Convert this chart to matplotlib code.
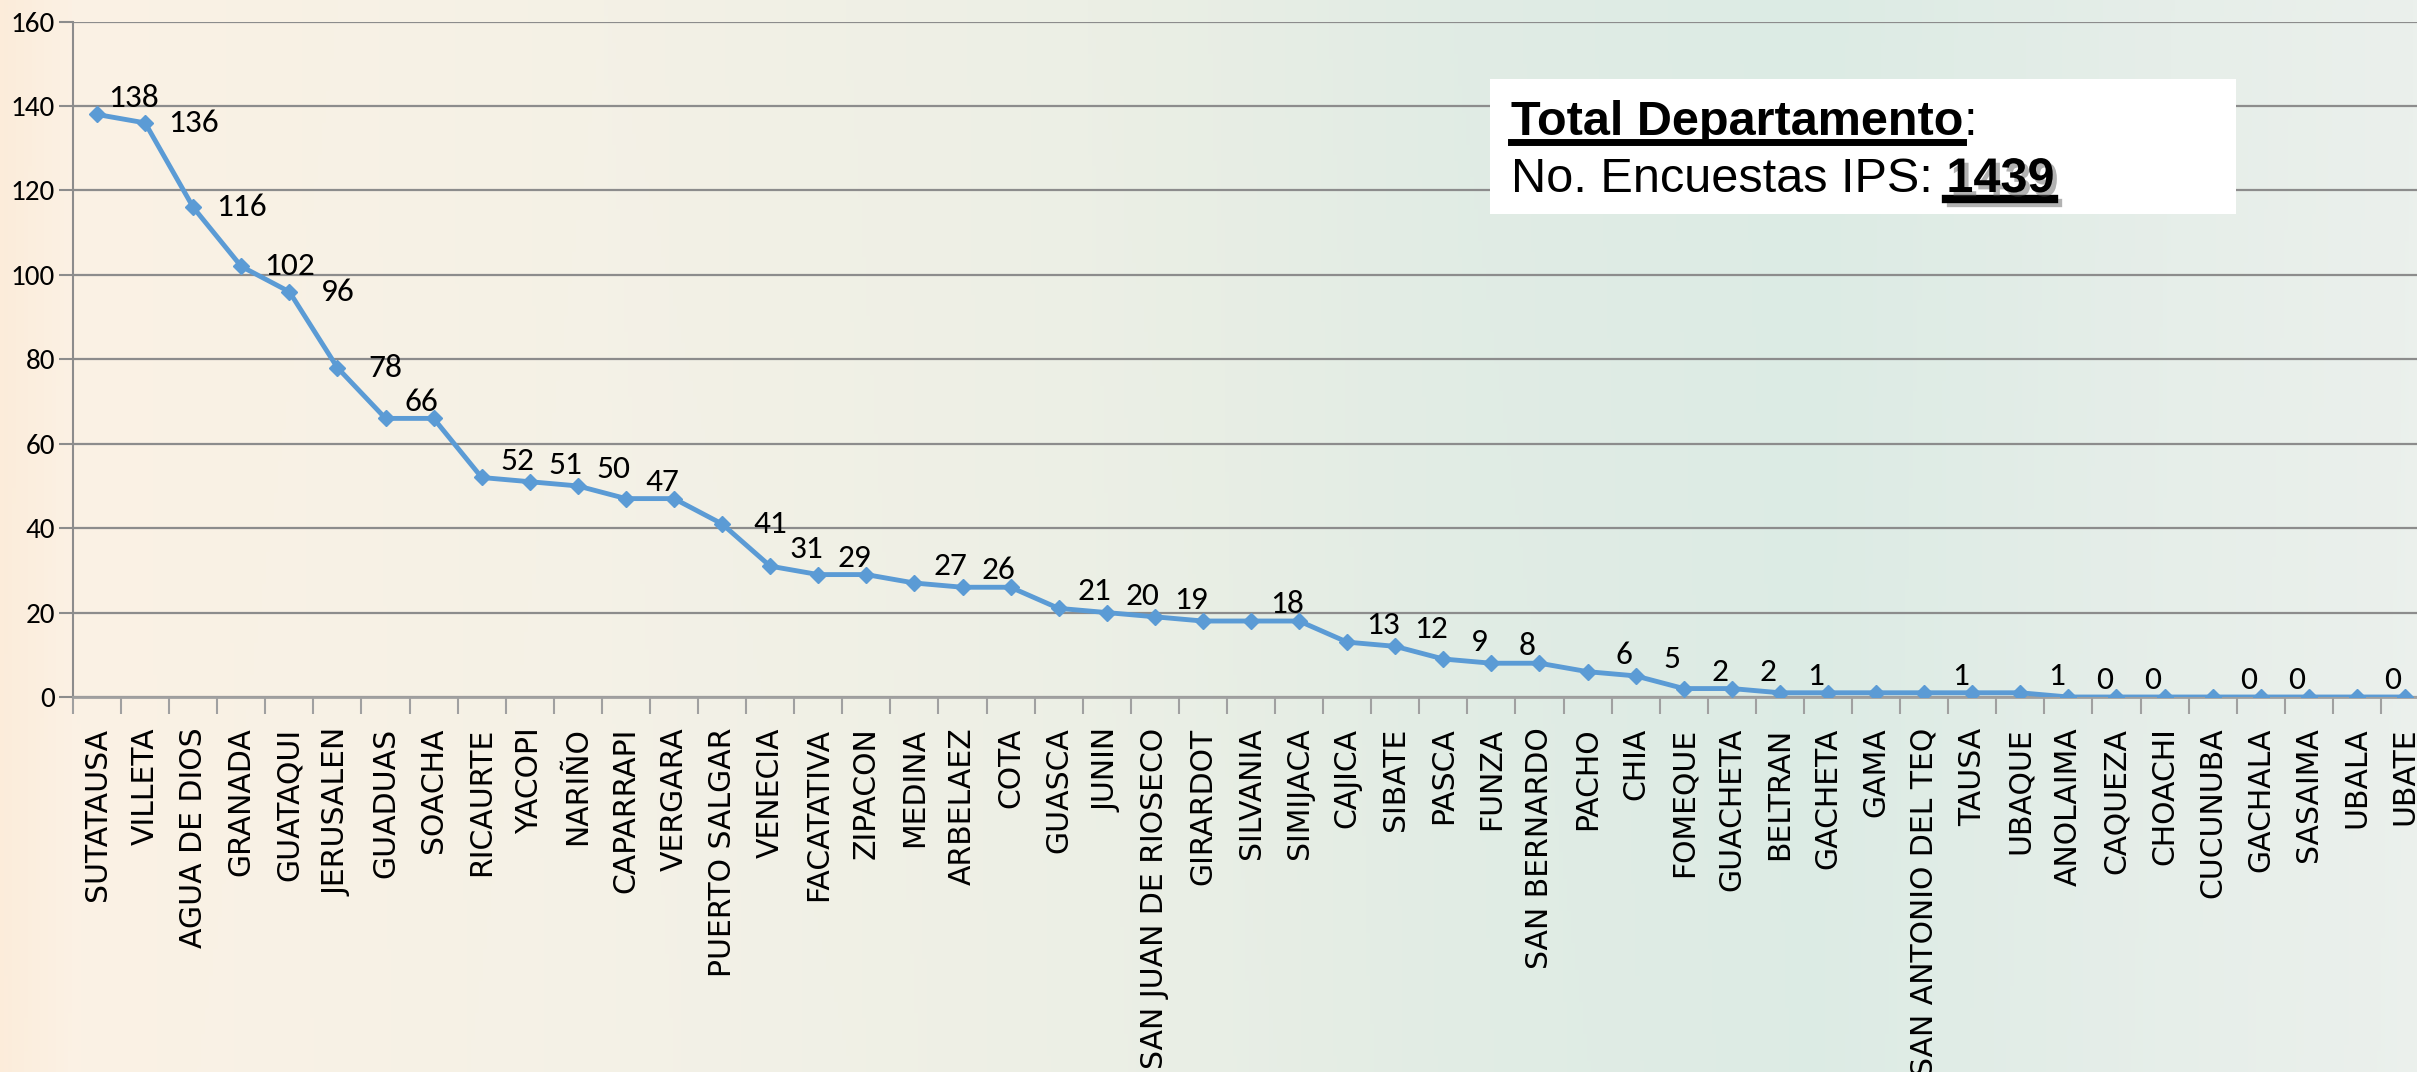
import numpy as np
import matplotlib
matplotlib.use("Agg")
import matplotlib.pyplot as plt
import matplotlib.patheffects as pe
from matplotlib import font_manager
from matplotlib.lines import Line2D
from matplotlib.patches import Rectangle

municipios = ["SUTATAUSA", "VILLETA", "AGUA DE DIOS", "GRANADA", "GUATAQUI",
              "JERUSALEN", "GUADUAS", "SOACHA", "RICAURTE", "YACOPI", "NARIÑO",
              "CAPARRAPI", "VERGARA", "PUERTO SALGAR", "VENECIA", "FACATATIVA",
              "ZIPACON", "MEDINA", "ARBELAEZ", "COTA", "GUASCA", "JUNIN",
              "SAN JUAN DE RIOSECO", "GIRARDOT", "SILVANIA", "SIMIJACA", "CAJICA",
              "SIBATE", "PASCA", "FUNZA", "SAN BERNARDO", "PACHO", "CHIA",
              "FOMEQUE", "GUACHETA", "BELTRAN", "GACHETA", "GAMA",
              "SAN ANTONIO DEL TEQ", "TAUSA", "UBAQUE", "ANOLAIMA", "CAQUEZA",
              "CHOACHI", "CUCUNUBA", "GACHALA", "SASAIMA", "UBALA", "UBATE"]
encuestas = [138, 136, 116, 102, 96, 78, 66, 66, 52, 51, 50, 47, 47, 41, 31, 29,
             29, 27, 26, 26, 21, 20, 19, 18, 18, 18, 13, 12, 9, 8, 8, 6, 5, 2, 2,
             1, 1, 1, 1, 1, 1, 0, 0, 0, 0, 0, 0, 0, 0]
# points that show a value label in the original
con_etiqueta = [0, 1, 2, 3, 4, 5, 6, 8, 9, 10, 11, 13, 14, 15, 17, 18, 20, 21, 22,
                24, 26, 27, 28, 29, 31, 32, 33, 34, 35, 38, 40, 41, 42, 44, 45, 47]
total = 1439
y_ticks = [0, 20, 40, 60, 80, 100, 120, 140, 160]

names = {f.name for f in font_manager.fontManager.ttflist}
num_font = "Carlito" if "Carlito" in names else "Lato"
if "Liberation Sans Narrow" in names:
    box_font, box_size = "Liberation Sans Narrow", 42
else:
    box_font, box_size = "Liberation Sans", 35

W, H = 2417, 1072
fig = plt.figure(figsize=(W / 100, H / 100), dpi=100)

# background gradient
bg = fig.add_axes([0, 0, 1, 1])
stops = [0.0, 0.03, 0.25, 0.45, 0.6, 0.75, 0.9, 1.0]
cols = np.array([[252, 236, 218], [251, 241, 228], [244, 241, 230], [236, 239, 229],
                 [225, 236, 228], [220, 235, 228], [230, 238, 233], [235, 240, 236]]) / 255
xs = np.linspace(0, 1, 600)
row = np.stack([np.interp(xs, stops, cols[:, k]) for k in range(3)], axis=-1)
ys = np.linspace(0, 1, 200)[:, None, None]
img = row[None, :, :] * (1 - 0.02 * ys) + 0.02 * ys
bg.imshow(np.clip(img, 0, 1), aspect="auto", extent=[0, 1, 0, 1])
bg.axis("off")

ax = fig.add_axes([73 / W, 1 - 697 / H, (2429 - 73) / W, (697 - 21.6) / H])
ax.patch.set_alpha(0)
x = np.arange(len(municipios))
ax.plot(x, encuestas, color="#5B9BD5", lw=3.5, marker="D", ms=8, zorder=3)

for i in con_etiqueta:
    v = encuestas[i]
    siguiente = encuestas[i + 1] if i + 1 < len(encuestas) else v
    if v - siguiente > 5:
        dx, dy = 1.0, 0
    else:
        dx, dy = 0.75, 4
    ax.text(x[i] + dx, v + dy, str(v), ha="center", va="center", fontsize=24,
            family=num_font, color="black", zorder=4)

ax.set_xlim(-0.5, len(municipios) - 0.5)
ax.set_ylim(0, 160)
ax.set_yticks(y_ticks)
ax.set_yticklabels([str(v) for v in y_ticks], family=num_font, fontsize=21)
ax.yaxis.grid(True, color="#8c8c8c", lw=1.6)
ax.set_axisbelow(True)
ax.tick_params(axis="y", length=10, width=1.5, color="#8c8c8c", pad=3)

ax.set_xticks(np.arange(len(municipios) + 1) - 0.5)
ax.set_xticklabels([])
ax.tick_params(axis="x", which="major", length=12, width=1.5, color="#a0a0a0")
ax.set_xticks(x, minor=True)
ax.set_xticklabels(municipios, minor=True, rotation=90, fontsize=21.5,
                   family="DejaVu Sans")
ax.tick_params(axis="x", which="minor", length=0, pad=22)

for s in ["top", "right"]:
    ax.spines[s].set_visible(False)
ax.spines["left"].set_color("#8c8c8c")
ax.spines["bottom"].set_color("#a0a0a0")
ax.spines["left"].set_linewidth(1.5)
ax.spines["bottom"].set_linewidth(2)

# summary box
fig.patches.append(Rectangle((1490 / W, 1 - 214 / H), (2236 - 1490) / W, (214 - 79) / H,
                             transform=fig.transFigure, facecolor="white",
                             edgecolor="none", zorder=5))
fig.canvas.draw()
r = fig.canvas.get_renderer()


def pieza(xpx, ybase, texto, bold=False, underline=False, shadow=False):
    t = fig.text(xpx / W, 1 - ybase / H, texto, family=box_font, fontsize=box_size,
                 weight="bold" if bold else "normal", va="baseline", ha="left",
                 zorder=6)
    if shadow:
        t.set_path_effects([pe.SimplePatchShadow(offset=(3, -3), shadow_rgbFace="#555555",
                                                 alpha=0.45), pe.Normal()])
    bb = t.get_window_extent(r)
    if underline:
        uy = ybase + 7
        lw = 5 if not shadow else 6
        ln = Line2D([bb.x0 / W, bb.x1 / W], [1 - uy / H, 1 - uy / H],
                    transform=fig.transFigure, color="black", lw=lw, zorder=6)
        if shadow:
            ln.set_path_effects([pe.SimpleLineShadow(offset=(3, -3), shadow_color="#555555",
                                                     alpha=0.45), pe.Normal()])
        fig.lines.append(ln)
    return bb.x1


xe = pieza(1511, 135, "Total Departamento", bold=True, underline=True)
pieza(xe, 135, ":")
xe = pieza(1511, 192, "No. Encuestas IPS: ")
pieza(xe, 192, str(total), bold=True, underline=True, shadow=True)

fig.savefig("out.png", dpi=100)
